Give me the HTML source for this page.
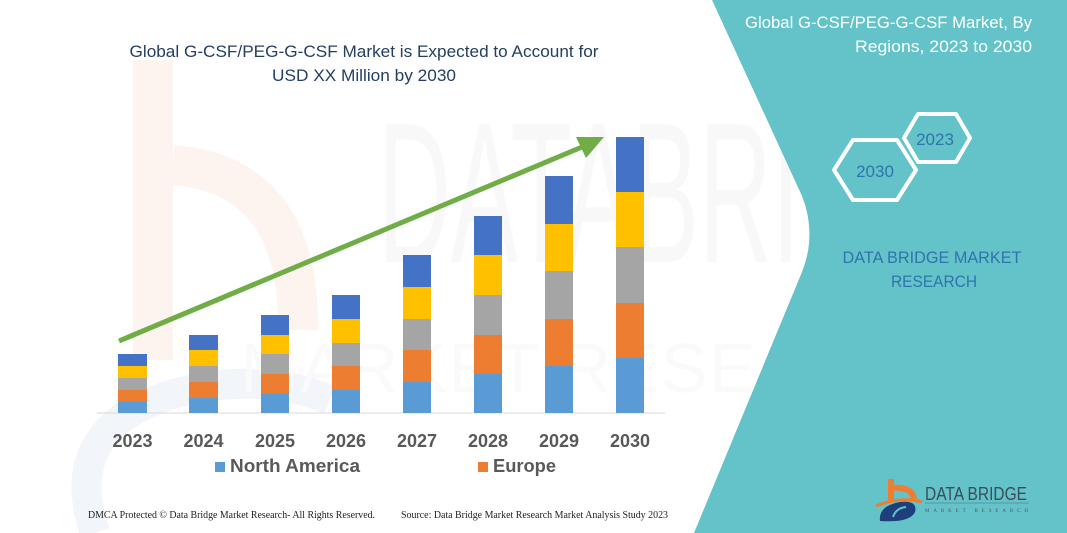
<!DOCTYPE html>
<html>
<head>
<meta charset="utf-8">
<style>
  html,body{margin:0;padding:0;background:#fff;}
  body{width:1067px;height:533px;overflow:hidden;}
  svg{display:block;}
</style>
</head>
<body>
<svg width="1067" height="533" viewBox="0 0 1067 533" xmlns="http://www.w3.org/2000/svg">
  <rect x="0" y="0" width="1067" height="533" fill="#ffffff"/>

  <!-- faint watermark logo on left -->
  <rect x="133" y="60" width="40" height="300" fill="#fdf4ef"/>
  <path d="M173,165 Q300,175 298,330" fill="none" stroke="#fdf4ef" stroke-width="40"/>
  <path d="M95,533 Q60,430 170,395 Q260,370 330,400" fill="none" stroke="#f2f5fa" stroke-width="30"/>

  <!-- faint watermark text -->
  <text x="378" y="262" font-family="Liberation Sans, sans-serif" font-size="200" fill="#f8f8f8" textLength="640" lengthAdjust="spacingAndGlyphs">DATABRIDGE</text>
  <text x="240" y="392" font-family="Liberation Sans, sans-serif" font-size="70" fill="#fafafa" textLength="720" lengthAdjust="spacing">MARKET RESEARCH</text>

  <!-- main title -->
  <text x="364" y="57" text-anchor="middle" font-family="Liberation Sans, sans-serif" font-size="17" fill="#243f60" textLength="469" lengthAdjust="spacingAndGlyphs">Global G-CSF/PEG-G-CSF Market is Expected to Account for</text>
  <text x="364" y="81" text-anchor="middle" font-family="Liberation Sans, sans-serif" font-size="17" fill="#243f60" textLength="184" lengthAdjust="spacingAndGlyphs">USD XX Million by 2030</text>

  <!-- baseline -->
  <line x1="97" y1="413" x2="665" y2="413" stroke="#d9d9d9" stroke-width="1"/>

  <!-- bars -->
  <g>
    <rect x="118" y="402" width="29" height="11" fill="#5b9bd5"/>
    <rect x="118" y="390" width="29" height="12" fill="#ed7d31"/>
    <rect x="118" y="378" width="29" height="12" fill="#a5a5a5"/>
    <rect x="118" y="366" width="29" height="12" fill="#ffc000"/>
    <rect x="118" y="354" width="29" height="12" fill="#4472c4"/>

    <rect x="189" y="398" width="29" height="15" fill="#5b9bd5"/>
    <rect x="189" y="382" width="29" height="16" fill="#ed7d31"/>
    <rect x="189" y="366" width="29" height="16" fill="#a5a5a5"/>
    <rect x="189" y="350" width="29" height="16" fill="#ffc000"/>
    <rect x="189" y="335" width="29" height="15" fill="#4472c4"/>

    <rect x="261" y="394" width="28" height="19" fill="#5b9bd5"/>
    <rect x="261" y="374" width="28" height="20" fill="#ed7d31"/>
    <rect x="261" y="354" width="28" height="20" fill="#a5a5a5"/>
    <rect x="261" y="335" width="28" height="19" fill="#ffc000"/>
    <rect x="261" y="315" width="28" height="20" fill="#4472c4"/>

    <rect x="332" y="390" width="28" height="23" fill="#5b9bd5"/>
    <rect x="332" y="366" width="28" height="24" fill="#ed7d31"/>
    <rect x="332" y="343" width="28" height="23" fill="#a5a5a5"/>
    <rect x="332" y="319" width="28" height="24" fill="#ffc000"/>
    <rect x="332" y="295" width="28" height="24" fill="#4472c4"/>

    <rect x="403" y="382" width="28" height="31" fill="#5b9bd5"/>
    <rect x="403" y="350" width="28" height="32" fill="#ed7d31"/>
    <rect x="403" y="319" width="28" height="31" fill="#a5a5a5"/>
    <rect x="403" y="287" width="28" height="32" fill="#ffc000"/>
    <rect x="403" y="255" width="28" height="32" fill="#4472c4"/>

    <rect x="474" y="374" width="28" height="39" fill="#5b9bd5"/>
    <rect x="474" y="335" width="28" height="39" fill="#ed7d31"/>
    <rect x="474" y="295" width="28" height="40" fill="#a5a5a5"/>
    <rect x="474" y="255" width="28" height="40" fill="#ffc000"/>
    <rect x="474" y="216" width="28" height="39" fill="#4472c4"/>

    <rect x="545" y="366" width="28" height="47" fill="#5b9bd5"/>
    <rect x="545" y="319" width="28" height="47" fill="#ed7d31"/>
    <rect x="545" y="271" width="28" height="48" fill="#a5a5a5"/>
    <rect x="545" y="224" width="28" height="47" fill="#ffc000"/>
    <rect x="545" y="176" width="28" height="48" fill="#4472c4"/>

    <rect x="616" y="358" width="28" height="55" fill="#5b9bd5"/>
    <rect x="616" y="303" width="28" height="55" fill="#ed7d31"/>
    <rect x="616" y="247" width="28" height="56" fill="#a5a5a5"/>
    <rect x="616" y="192" width="28" height="55" fill="#ffc000"/>
    <rect x="616" y="137" width="28" height="55" fill="#4472c4"/>
  </g>

  <!-- arrow -->
  <line x1="119" y1="341" x2="582" y2="147" stroke="#70ad47" stroke-width="5"/>
  <polygon points="604,137 576,137 586,158" fill="#70ad47"/>

  <!-- year labels -->
  <g font-family="Liberation Sans, sans-serif" font-size="18" font-weight="bold" fill="#595959" text-anchor="middle">
    <text x="132.5" y="447">2023</text>
    <text x="203.5" y="447">2024</text>
    <text x="275" y="447">2025</text>
    <text x="346" y="447">2026</text>
    <text x="417" y="447">2027</text>
    <text x="488" y="447">2028</text>
    <text x="559" y="447">2029</text>
    <text x="630" y="447">2030</text>
  </g>

  <!-- legend -->
  <rect x="215" y="462" width="10" height="10" fill="#5b9bd5"/>
  <text x="230" y="472" font-family="Liberation Sans, sans-serif" font-size="18" font-weight="bold" fill="#595959" textLength="130" lengthAdjust="spacingAndGlyphs">North America</text>
  <rect x="478" y="462" width="10" height="10" fill="#ed7d31"/>
  <text x="493" y="472" font-family="Liberation Sans, sans-serif" font-size="18" font-weight="bold" fill="#595959" textLength="63" lengthAdjust="spacingAndGlyphs">Europe</text>

  <!-- footer -->
  <text x="88" y="518" font-family="Liberation Serif, serif" font-size="10" fill="#222" textLength="287" lengthAdjust="spacingAndGlyphs">DMCA Protected © Data Bridge Market Research-  All Rights Reserved.</text>
  <text x="401" y="518" font-family="Liberation Serif, serif" font-size="10" fill="#222" textLength="267" lengthAdjust="spacingAndGlyphs">Source: Data Bridge Market Research  Market Analysis Study 2023</text>

  <!-- teal panel -->
  <path d="M712,0 L802,196 Q817,234 802,272 L694,533 L1067,533 L1067,0 Z" fill="#63c3c9"/>

  <!-- right title -->
  <text x="1032" y="28" text-anchor="end" font-family="Liberation Sans, sans-serif" font-size="17" fill="#ffffff" textLength="287" lengthAdjust="spacingAndGlyphs">Global G-CSF/PEG-G-CSF Market, By</text>
  <text x="1032" y="52" text-anchor="end" font-family="Liberation Sans, sans-serif" font-size="17" fill="#ffffff" textLength="177" lengthAdjust="spacingAndGlyphs">Regions, 2023 to 2030</text>

  <!-- hexagons -->
  <polygon points="834,170 853,140 897,140 916,170 897,200 853,200" fill="none" stroke="#ffffff" stroke-width="4" stroke-linejoin="round"/>
  <polygon points="904,138 918,114 956,114 970,138 956,162 918,162" fill="none" stroke="#ffffff" stroke-width="4" stroke-linejoin="round"/>
  <text x="875" y="177" text-anchor="middle" font-family="Liberation Sans, sans-serif" font-size="17" fill="#2f74ad">2030</text>
  <text x="935" y="145" text-anchor="middle" font-family="Liberation Sans, sans-serif" font-size="17" fill="#2f74ad">2023</text>

  <!-- DBMR text -->
  <text x="932" y="263" text-anchor="middle" font-family="Liberation Sans, sans-serif" font-size="17" fill="#2f74ad" textLength="179" lengthAdjust="spacingAndGlyphs">DATA BRIDGE MARKET</text>
  <text x="934" y="287" text-anchor="middle" font-family="Liberation Sans, sans-serif" font-size="17" fill="#2f74ad" textLength="86" lengthAdjust="spacingAndGlyphs">RESEARCH</text>

  <!-- logo -->
  <rect x="888" y="479" width="6" height="22" fill="#ef7d30"/>
  <path d="M891,488 Q913,486 914,500" fill="none" stroke="#ef7d30" stroke-width="6"/>
  <path d="M876,506 Q900,496 922,502" fill="none" stroke="#ef7d30" stroke-width="3"/>
  <path d="M880,521 Q878,506 900,502 Q918,500 915,512 Q910,523 880,521 Z" fill="#1f3f7a"/>
  <path d="M893,517 Q896,508 906,507" fill="none" stroke="#63c3c9" stroke-width="2"/>
  <text x="925" y="500" font-family="Liberation Sans, sans-serif" font-size="18" fill="#3c4c5a" textLength="102" lengthAdjust="spacingAndGlyphs">DATA BRIDGE</text>
  <line x1="925" y1="503" x2="1029" y2="503" stroke="#5a6b78" stroke-width="0.6"/>
  <text x="925" y="512" font-family="Liberation Serif, serif" font-size="5" fill="#4a5a66" textLength="103" lengthAdjust="spacing">MARKET RESEARCH</text>
</svg>
</body>
</html>
